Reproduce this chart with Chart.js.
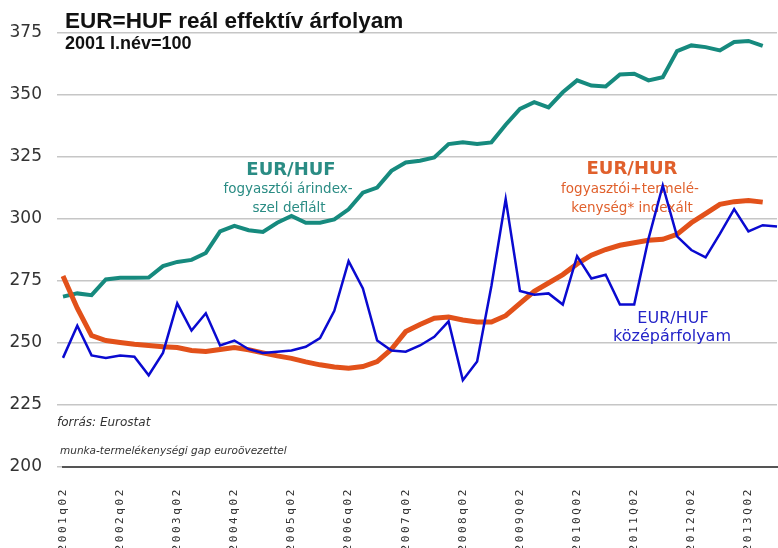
<!DOCTYPE html>
<html>
<head>
<meta charset="utf-8">
<script src="https://cdn.jsdelivr.net/npm/chart.js@4"></script>
<style>
  body { margin: 0; background: #fff; }
  #wrap { position: relative; width: 778px; height: 548px; }
</style>
</head>
<body>
<div id="wrap"><canvas id="chart"></canvas></div>
<script>
const quarters = [
  "2001q02", "2001q03", "2001q04", "2002q01",
  "2002q02", "2002q03", "2002q04", "2003q01",
  "2003q02", "2003q03", "2003q04", "2004q01",
  "2004q02", "2004q03", "2004q04", "2005q01",
  "2005q02", "2005q03", "2005q04", "2006q01",
  "2006q02", "2006q03", "2006q04", "2007q01",
  "2007q02", "2007q03", "2007q04", "2008q01",
  "2008q02", "2008q03", "2008q04", "2009Q01",
  "2009Q02", "2009Q03", "2009Q04", "2010Q01",
  "2010Q02", "2010Q03", "2010Q04", "2011Q01",
  "2011Q02", "2011Q03", "2011Q04", "2012Q01",
  "2012Q02", "2012Q03", "2012Q04", "2013Q01",
  "2013Q02", "2013Q03", "2013Q04",
];

// EUR/HUF fogyasztói árindex-szel deflált
const cpiDeflated = [
  268.7, 270, 269.3, 275.6, 276.3, 276.3, 276.4, 281, 282.7, 283.5,
  286.3, 295, 297.2, 295.5, 294.8, 298.5, 301.2, 298.5, 298.5, 299.8,
  303.9, 310.6, 312.7, 319.4, 322.8, 323.5, 324.8, 330.2, 330.9, 330.2,
  330.9, 338, 344.4, 347.1, 345, 351.1, 355.9, 353.8, 353.4, 358.3,
  358.6, 355.9, 357.2, 367.7, 370, 369.3, 368, 371.4, 371.8, 369.8,
  null,
];

// EUR/HUR fogyasztói+termelékenység indexált
const productivityIndexed = [
  277, 264, 253, 251, 250.2, 249.5, 249, 248.5, 248.2, 247,
  246.6, 247.4, 248.2, 247.3, 246, 244.8, 243.8, 242.4, 241.2, 240.3,
  239.8, 240.5, 242.5, 247.5, 254.6, 257.5, 260, 260.5, 259.3, 258.5,
  258.5, 261, 266, 270.8, 274.2, 277.6, 281.9, 285.4, 287.7, 289.4,
  290.4, 291.4, 291.8, 293.8, 298.5, 302.2, 305.9, 307, 307.5, 306.8,
  null,
];

// EUR/HUF középárfolyam
const midRate = [
  244, 257, 245, 244, 245, 244.5, 237, 246, 266, 255,
  262, 249, 251, 247.5, 246, 246.5, 247, 248.5, 252, 263,
  283, 272, 251, 247, 246.5, 249, 252.5, 258.7, 235, 242.5,
  273, 308, 271, 269.5, 270, 265.5, 285, 276, 277.5, 265.5,
  265.5, 292, 313.5, 293, 287.5, 284.5, 294, 304, 295, 297.5,
  297,
];

const yTicks = [200, 225, 250, 275, 300, 325, 350, 375];

const notes = [
  { text: "EUR=HUF reál effektív árfolyam", x: 65, y: 28, align: "left", font: "bold 22.5px 'Liberation Sans'", color: "#111" },
  { text: "2001 I.név=100", x: 65, y: 49, align: "left", font: "bold 18px 'Liberation Sans'", color: "#111" },
  { text: "EUR/HUF", x: 291, y: 175, align: "center", font: "bold 18px 'DejaVu Sans'", color: "#2a8c84" },
  { text: "fogyasztói árindex-", x: 288, y: 193, align: "center", font: "13.5px 'DejaVu Sans'", color: "#2a8c84" },
  { text: "szel deflált", x: 289, y: 212, align: "center", font: "13.5px 'DejaVu Sans'", color: "#2a8c84" },
  { text: "EUR/HUR", x: 632, y: 174, align: "center", font: "bold 18px 'DejaVu Sans'", color: "#e0602c" },
  { text: "fogyasztói+termelé-", x: 630, y: 193, align: "center", font: "13.5px 'DejaVu Sans'", color: "#e0602c" },
  { text: "kenység* indexált", x: 632, y: 212, align: "center", font: "13.5px 'DejaVu Sans'", color: "#e0602c" },
  { text: "EUR/HUF", x: 673, y: 323, align: "center", font: "16px 'DejaVu Sans'", color: "#2424c8" },
  { text: "középárfolyam", x: 672, y: 341, align: "center", font: "16px 'DejaVu Sans'", color: "#2424c8" },
  { text: "forrás: Eurostat", x: 57, y: 426, align: "left", font: "italic 12px 'DejaVu Sans'", color: "#333" },
  { text: "munka-termelékenységi gap euroövezettel", x: 60, y: 454, align: "left", font: "italic 10.5px 'DejaVu Sans'", color: "#333" },
];

// text sits under the lines, like in the original sheet
const notesPlugin = {
  id: "notes",
  beforeDatasetsDraw(chart) {
    const ctx = chart.ctx;
    ctx.save();
    ctx.textBaseline = "alphabetic";
    notes.forEach((n) => {
      ctx.font = n.font;
      ctx.fillStyle = n.color;
      ctx.textAlign = n.align;
      ctx.fillText(n.text, n.x, n.y);
    });
    ctx.restore();
  },
};

// the quarter labels are widely letter-spaced in the original,
// chart.js can't do that so they are drawn here off the x scale
const quarterLabels = {
  id: "quarterLabels",
  afterDraw(chart) {
    const ctx = chart.ctx;
    const xs = chart.scales.x;
    const top = chart.chartArea.bottom + 20;
    ctx.save();
    ctx.font = "11px 'DejaVu Sans Mono'";
    ctx.fillStyle = "#333";
    ctx.letterSpacing = "2.6px";
    ctx.textAlign = "right";
    ctx.textBaseline = "middle";
    quarters.forEach((q, i) => {
      if (i % 4 !== 0) return;
      ctx.save();
      ctx.translate(xs.getPixelForValue(i), top);
      ctx.rotate(-Math.PI / 2);
      ctx.fillText(q, 0, 0);
      ctx.restore();
    });
    ctx.restore();
  },
};

new Chart(document.getElementById("chart"), {
  type: "line",
  data: {
    labels: quarters,
    datasets: [
      {
        label: "EUR/HUF középárfolyam",
        data: midRate,
        borderColor: "#0a0ad0",
        borderWidth: 2.5,
        pointRadius: 0,
        tension: 0,
      },
      {
        label: "EUR/HUR fogyasztói+termelékenység indexált",
        data: productivityIndexed,
        borderColor: "#e2511a",
        borderWidth: 5,
        pointRadius: 0,
        tension: 0,
      },
      {
        label: "EUR/HUF fogyasztói árindex-szel deflált",
        data: cpiDeflated,
        borderColor: "#168a7e",
        borderWidth: 4,
        pointRadius: 0,
        tension: 0,
      },
    ],
  },
  options: {
    responsive: true,
    maintainAspectRatio: false,
    animation: false,
    layout: { padding: { left: 9, right: 1, top: 33, bottom: 0 } },
    plugins: {
      legend: { display: false },
      tooltip: { enabled: false },
    },
    scales: {
      x: {
        grid: { display: false, drawTicks: false },
        border: { display: true, color: "#555", width: 2 },
        afterFit: (scale) => {
          scale.paddingLeft = 0;
          scale.paddingRight = 0;
          scale.height = 81;
        },
        ticks: { display: false, autoSkip: false },
      },
      y: {
        min: yTicks[0],
        max: yTicks[yTicks.length - 1],
        afterBuildTicks: (axis) => {
          axis.ticks = yTicks.map((v) => ({ value: v }));
        },
        afterFit: (scale) => {
          scale.width = 54;
        },
        border: { display: false },
        grid: { color: "#c6c6c6", lineWidth: 1.5, tickLength: 6 },
        ticks: {
          padding: 15,
          color: "#333",
          font: { family: "'DejaVu Sans'", size: 17 },
        },
      },
    },
  },
  plugins: [notesPlugin, quarterLabels],
});
</script>
</body>
</html>
